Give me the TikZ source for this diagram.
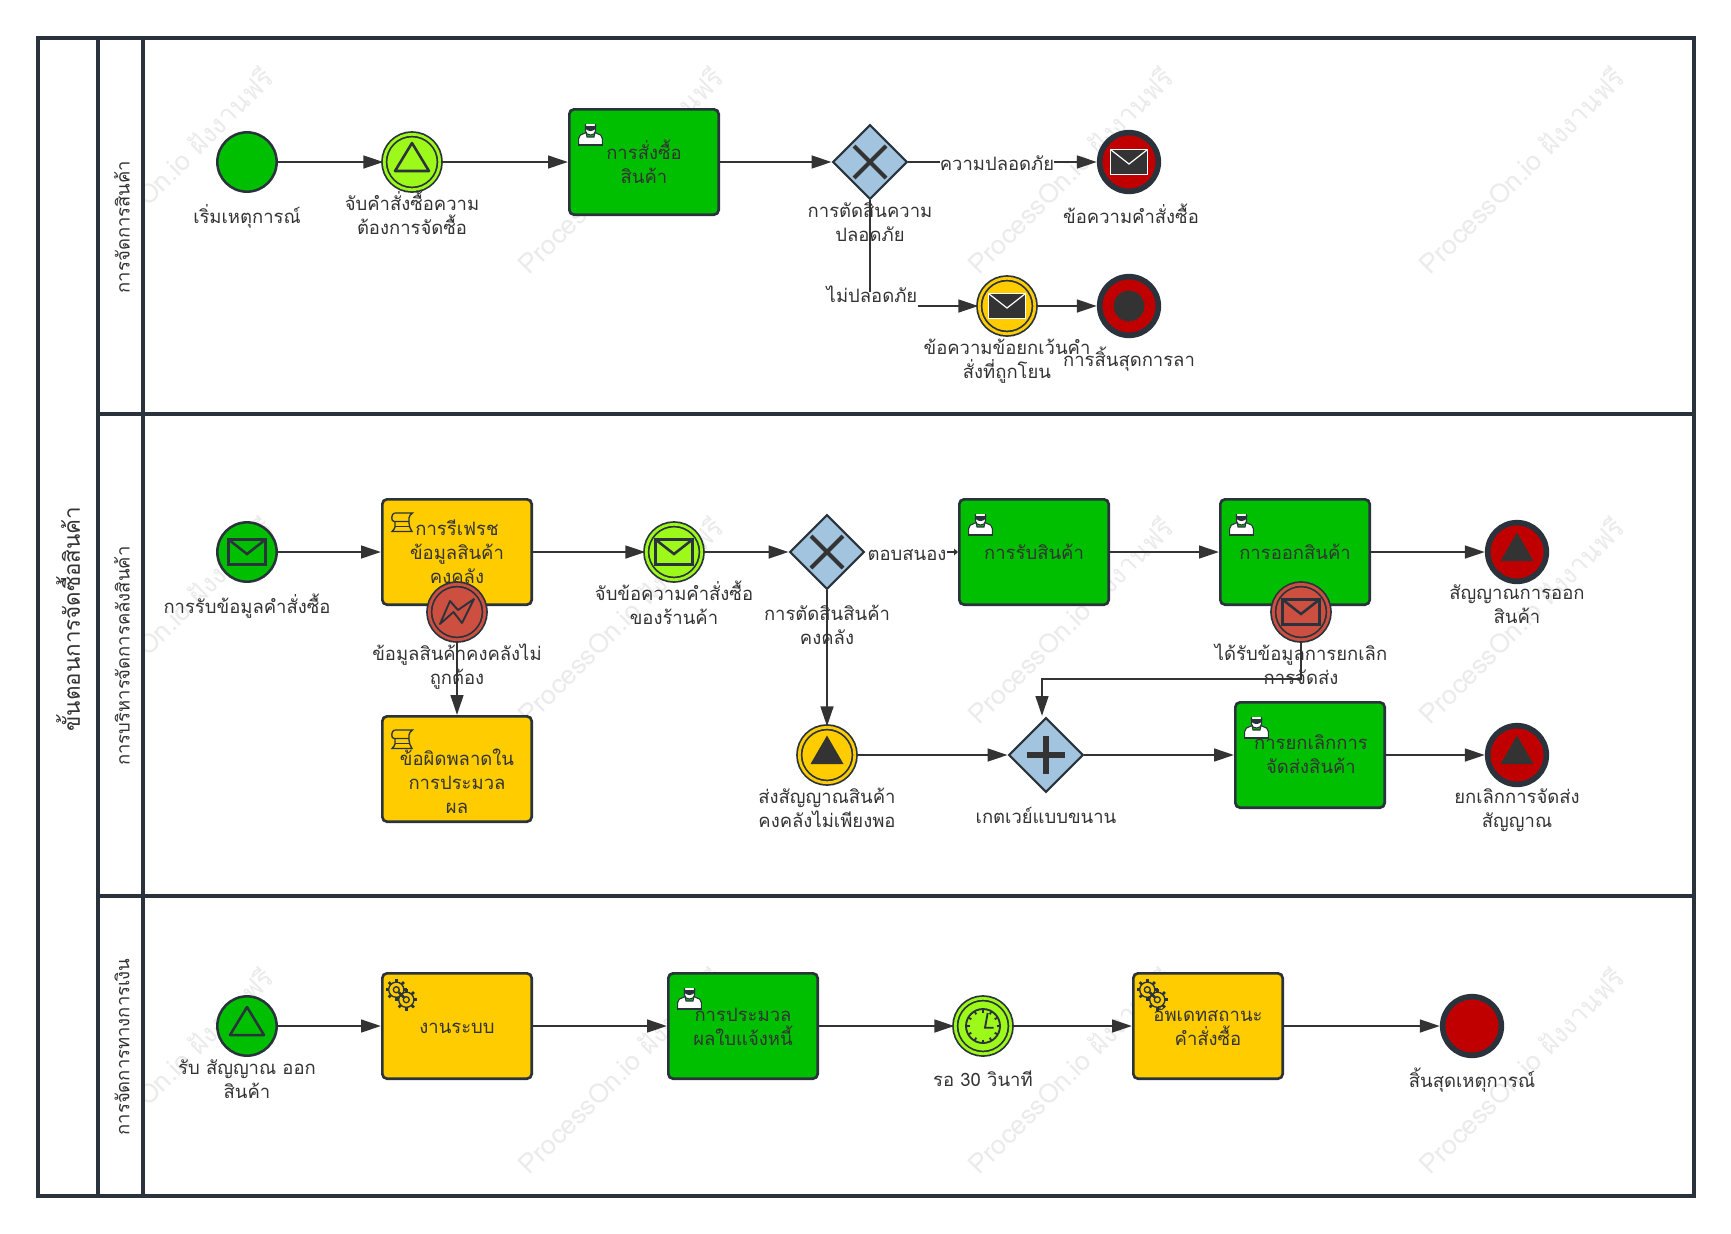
\documentclass[tikz,border=0pt]{standalone}
\usepackage{fontspec}
\usetikzlibrary{arrows.meta,shapes.geometric,calc}
\newfontfamily\thaifont[Script=Thai]{Loma}
\definecolor{rEdge}{HTML}{2A333C}
\definecolor{rLine}{HTML}{333333}
\definecolor{rGreen}{HTML}{00BF00}
\definecolor{rLime}{HTML}{9DF91A}
\definecolor{rYellow}{HTML}{FFCC00}
\definecolor{rRed}{HTML}{C00000}
\definecolor{rBrick}{HTML}{CC4F3F}
\definecolor{rBlue}{HTML}{A2C4DE}
\definecolor{rMark}{HTML}{EBEBEB}
\tikzset{
  event/.style={circle,draw=rEdge,line width=1.9pt,minimum size=44.5pt,inner sep=0pt},
  ringed/.style={event,double=#1,double distance=2.1pt,line width=1.3pt,fill=#1,minimum size=41.6pt},
  stopevent/.style={circle,draw=rEdge,line width=4.2pt,minimum size=44pt,inner sep=0pt,fill=rRed},
  gateway/.style={diamond,aspect=1,draw=rEdge,line width=1.6pt,fill=rBlue,minimum size=56pt,inner sep=0pt},
  task/.style={rectangle,rounded corners=3.5pt,draw=rEdge,line width=2pt,minimum width=112pt,minimum height=79pt,
    align=center,inner sep=0pt,text=rLine,font=\thaifont\fontsize{13.85}{18}\selectfont,
    execute at begin node=\rule{0pt}{16.35pt},execute at end node=\strut},
  note/.style={align=center,inner sep=0pt,text=rLine,font=\thaifont\fontsize{13.85}{18}\selectfont,
    execute at begin node=\strut,execute at end node=\strut},
  lanetitle/.style={rotate=90,text=rLine,inner sep=0pt,font=\thaifont\fontsize{13.85}{18}\selectfont},
  wmark/.style={rotate=45,text=rMark,inner sep=0pt,font=\thaifont\fontsize{20}{22}\selectfont},
  flow/.style={draw=rLine,line width=1.9pt,-{Triangle[length=15pt,width=9.5pt]}},
  flowstub/.style={draw=rLine,line width=1.9pt,-{Triangle[length=3pt,width=5pt]}},
  plainflow/.style={draw=rLine,line width=1.9pt},
  icon/.style={draw=rEdge,line width=1.9pt,line join=round},
  laneline/.style={draw=rEdge,line width=2.3pt}
}
\newcommand{\mailicon}[4]{\begin{scope}[shift={(#1)}]
  \draw[line width=#4,draw=#3,fill=#2] (-18.5,-12.5) rectangle (18.5,12.5);
  \draw[line width=#4,draw=#3] (-18.5,-12.5) -- (0,2) -- (18.5,-12.5);
\end{scope}}
\newcommand{\signalicon}[2]{\begin{scope}[shift={(#1)}]
  \draw[icon,fill=#2] (0,-19) -- (17,9) -- (-17,9) -- cycle;
\end{scope}}
\newcommand{\signalfill}[1]{\begin{scope}[shift={(#1)}]
  \fill[rLine] (0,-19.5) -- (16.5,9) -- (-16.5,9) -- cycle;
\end{scope}}
\newcommand{\usericon}[1]{\begin{scope}[shift={(#1)}]
  \draw[line width=.8pt,draw=rEdge,fill=white] (10.7,36.7) -- (10.7,30.5) to[out=90,in=190] (16,25.5) -- (18,24.5) -- (19,29) -- (26,29) -- (27,24.5) -- (29,25.5) to[out=-10,in=90] (34.3,30.5) -- (34.3,36.7) -- cycle;
  \draw[line width=.8pt,draw=rEdge,fill=white] (17.5,16) -- (17.5,23) to[out=-90,in=180] (22.5,27) to[out=0,in=-90] (27.5,23) -- (27.5,16);
  \fill[rEdge] (16.5,18) -- (16.5,17.5) arc (180:0:6 and 5.5) -- (28.5,18) -- cycle;
  \draw[line width=1.3pt,draw=rEdge] (10,37.2) -- (35,37.2);
\end{scope}}
\newcommand{\scrollicon}[1]{\begin{scope}[shift={(#1)}]
  \draw[line width=1pt,draw=rEdge] (13.5,15) -- (31.5,15) to[out=220,in=90] (28,20) -- (28,25) to[out=-90,in=120] (31,33.5) -- (11,33.5) to[out=60,in=-90] (14,29) -- (14,24);
  \draw[line width=1pt,draw=rEdge] (13.5,15) to[out=190,in=180] (13,23.5) -- (28,23.5);
  \draw[line width=1pt,draw=rEdge] (14,28.5) -- (28,28.5);
\end{scope}}
\newcommand{\geartooth}[2]{%
  \draw[line width=1pt,draw=rEdge] (#1,#2) circle (7.6);
  \draw[line width=1pt,draw=rEdge] (#1,#2) circle (3);
  \foreach \a in {0,45,...,315}
    \draw[line width=2pt,draw=rEdge] ($(#1,#2)+(\a:7.4)$) -- ($(#1,#2)+(\a:10.8)$);
}
\newcommand{\gearicon}[1]{\begin{scope}[shift={(#1)}]
  \geartooth{15.3}{17.7}
  \geartooth{25.3}{27.7}
\end{scope}}
\begin{document}
\begin{tikzpicture}[x=0.75pt,y=-0.75pt]
  \useasboundingbox (0,0) rectangle (1731,1233);
  % Filling page and pool
  \fill[white] (0,0) rectangle (1731,1233);

  % Marking free watermark
  \foreach \x in {170,620,1070,1521}
    \foreach \y in {170,620,1070}
      \node[wmark] (wm\x\y) at (\x,\y) {ProcessOn.io ฝังงานฟรี};

  % Drawing lane frames
  \fill[white] (38,38) rectangle (143,1196);
  \draw[laneline] (38,38) rectangle (1694,1196);
  \draw[laneline] (98,38) -- (98,1196);
  \draw[laneline] (143,38) -- (143,1196);
  \draw[laneline] (98,414) -- (1694,414);
  \draw[laneline] (98,896) -- (1694,896);

  % Marking lane titles
  \node[lanetitle,font=\thaifont\fontsize{16.8}{18}\selectfont] (poolName) at (68,619) {ขั้นตอนการจัดซื้อสินค้า};
  \node[lanetitle] (laneBuy) at (122,227) {การจัดการสินค้า};
  \node[lanetitle] (laneStock) at (122,656) {การบริหารจัดการคลังสินค้า};
  \node[lanetitle] (laneMoney) at (122,1047) {การจัดการทางการเงิน};

  % Marking purchase lane shapes
  \node[event,fill=rGreen] (evStart) at (247,162) {};
  \node[ringed=rLime] (evCatch) at (412,162) {};
  \node[task,fill=rGreen] (taskOrder) at (644,162) {};
  \node[note] (txtOrder) at (644,165) {การสั่งซื้อ\\สินค้า};
  \node[gateway] (gwSafe) at (870,162) {};
  \node[stopevent] (evOrderEnd) at (1129,162) {};
  \node[ringed=rYellow] (evThrow) at (1007,306) {};
  \node[stopevent] (evLeave) at (1129,306) {};
  \node[circle,fill=rLine,minimum size=23pt,inner sep=0pt] (dotLeave) at (1129,306) {};

  % Marking purchase lane icons
  \signalicon{evCatch}{rLime}
  \usericon{taskOrder.north west}
  \draw[line width=3pt,draw=rLine] ([shift={(-12pt,-12pt)}]gwSafe.center) -- ([shift={(12pt,12pt)}]gwSafe.center);
  \draw[line width=3pt,draw=rLine] ([shift={(12pt,-12pt)}]gwSafe.center) -- ([shift={(-12pt,12pt)}]gwSafe.center);
  \mailicon{evOrderEnd}{rLine}{white}{.9pt}
  \mailicon{evThrow}{rLine}{white}{.9pt}

  % Marking purchase lane labels
  \node[note] (txtStart) at (247,218) {เริ่มเหตุการณ์};
  \node[note] (txtCatch) at (412,216) {จับคำสั่งซื้อความ\\ต้องการจัดซื้อ};
  \node[note] (txtGate) at (870,226) {การตัดสินความ\\ปลอดภัย};
  \node[note] (lblSafe) at (997,166) {ความปลอดภัย};
  \node[note] (lblUnsafe) at (872,298) {ไม่ปลอดภัย};
  \node[note] (txtOrderEnd) at (1131,217) {ข้อความคำสั่งซื้อ};
  \node[note] (txtThrow) at (1007,362) {ข้อความข้อยกเว้นคำ\\สั่งที่ถูกโยน};
  \node[note] (txtLeave) at (1129,360) {การสิ้นสุดการลา};

  % Drawing purchase lane flows
  \draw[flow] (evStart) -- (evCatch);
  \draw[flow] (evCatch) -- (taskOrder);
  \draw[flow] (taskOrder) -- (gwSafe);
  \draw[plainflow] (gwSafe.east) -- (gwSafe.east -| lblSafe.west);
  \draw[flow] (gwSafe.east -| lblSafe.east) -- (evOrderEnd);
  \draw[plainflow,line width=1.5pt] (gwSafe.south) -- ($(gwSafe |- lblUnsafe.north)+(0,6)$);
  \draw[flow] (evThrow -| lblUnsafe.east) -- (evThrow);
  \draw[flow] (evThrow) -- (evLeave);

  % Marking stock lane shapes
  \node[event,fill=rGreen] (evMail) at (247,552) {};
  \node[task,fill=rYellow] (taskRefresh) at (457,552) {};
  \node[note] (txtRefresh) at (457,555.5) {การรีเฟรช\\ข้อมูลสินค้า\\คงคลัง};
  \node[task,fill=rYellow] (taskError) at (457,769) {};
  \node[ringed=rLime] (evMailCatch) at (674,552) {};
  \node[gateway] (gwStock) at (827,552) {};
  \node[task,fill=rGreen] (taskReceive) at (1034,552) {การรับสินค้า};
  \node[task,fill=rGreen] (taskIssue) at (1295,552) {การออกสินค้า};
  \node[stopevent] (evIssueEnd) at (1517,552) {};
  \node[ringed=rYellow] (evLack) at (827,755) {};
  \node[gateway] (gwPlus) at (1046,755) {};
  \node[task,fill=rGreen] (taskCancel) at (1310,755) {};
  \node[note] (txtCancel) at (1311,758) {การยกเลิกการ\\จัดส่งสินค้า};
  \node[stopevent] (evCancelEnd) at (1517,755) {};
  \node[ringed=rBrick] (evBadData) at (457,612) {};
  \node[ringed=rBrick] (evCancelMsg) at (1301,612) {};

  % Marking stock lane icons
  \mailicon{evMail}{rGreen}{rEdge}{1.9pt}
  \scrollicon{taskRefresh.north west}
  \scrollicon{taskError.north west}
  \mailicon{evMailCatch}{rLime}{rEdge}{1.9pt}
  \draw[line width=3pt,draw=rLine] ([shift={(-12pt,-12pt)}]gwStock.center) -- ([shift={(12pt,12pt)}]gwStock.center);
  \draw[line width=3pt,draw=rLine] ([shift={(12pt,-12pt)}]gwStock.center) -- ([shift={(-12pt,12pt)}]gwStock.center);
  \usericon{taskReceive.north west}
  \usericon{taskIssue.north west}
  \usericon{taskCancel.north west}
  \signalfill{evIssueEnd}
  \signalfill{evLack}
  \signalfill{evCancelEnd}
  \draw[line width=3.8pt,draw=rLine] ([xshift=-14.5pt]gwPlus.center) -- ([xshift=14.5pt]gwPlus.center);
  \draw[line width=3.8pt,draw=rLine] ([yshift=-14pt]gwPlus.center) -- ([yshift=14pt]gwPlus.center);
  \begin{scope}[shift={(evBadData)}]
    \draw[icon,line width=1.4pt] (-17,12) -- (-7,-11) -- (1,-2) -- (17,-13) -- (5,11) -- (-3.5,0) -- cycle;
  \end{scope}
  \mailicon{evCancelMsg}{rBrick}{rEdge}{1.9pt}

  % Marking stock lane labels
  \node[note] (txtMail) at (247,607) {การรับข้อมูลคำสั่งซื้อ};
  \node[note] (txtBadData) at (457,668) {ข้อมูลสินค้าคงคลังไม่\\ถูกต้อง};
  \node[note] (txtError) at (457,785) {ข้อผิดพลาดใน\\การประมวล\\ผล};
  \node[note] (txtMailCatch) at (674,606) {จับข้อความคำสั่งซื้อ\\ของร้านค้า};
  \node[note] (txtStockGate) at (827,628) {การตัดสินสินค้า\\คงคลัง};
  \node[note] (lblReply) at (907,556) {ตอบสนอง};
  \node[note] (txtCancelMsg) at (1301,668) {ได้รับข้อมูลการยกเลิก\\การจัดส่ง};
  \node[note] (txtIssueEnd) at (1517,608) {สัญญาณการออก\\สินค้า};
  \node[note] (txtLack) at (827,811) {ส่งสัญญาณสินค้า\\คงคลังไม่เพียงพอ};
  \node[note] (txtPlus) at (1046,819) {เกตเวย์แบบขนาน};
  \node[note] (txtCancelEnd) at (1517,812) {ยกเลิกการจัดส่ง\\สัญญาณ};

  % Drawing stock lane flows
  \coordinate (bendA) at (1301,679);
  \coordinate (bendB) at (1042,679);
  \coordinate (tipPlus) at (1042,716);
  \draw[flow] (evMail) -- (taskRefresh);
  \draw[flow] (evBadData) -- (taskError);
  \draw[flow] (taskRefresh) -- (evMailCatch);
  \draw[flow] (evMailCatch) -- (gwStock);
  \draw[flowstub] (gwStock.center -| lblReply.east) -- (taskReceive);
  \draw[flow] (taskReceive) -- (taskIssue);
  \draw[flow] (taskIssue) -- (evIssueEnd);
  \draw[flow] (gwStock) -- (evLack);
  \draw[flow] (evLack) -- (gwPlus);
  \draw[flow] (gwPlus) -- (taskCancel);
  \draw[flow] (taskCancel) -- (evCancelEnd);
  \draw[flow] (evCancelMsg) -- (bendA) -- (bendB) -- (tipPlus);

  % Marking finance lane shapes
  \node[event,fill=rGreen] (evPaySignal) at (247,1026) {};
  \node[task,fill=rYellow] (taskSystem) at (457,1026) {งานระบบ};
  \node[task,fill=rGreen] (taskInvoice) at (743,1026) {};
  \node[note] (txtInvoice) at (743,1030) {การประมวล\\ผลใบแจ้งหนี้};
  \node[ringed=rLime] (evTimer) at (983,1026) {};
  \node[task,fill=rYellow] (taskUpdate) at (1208,1026) {};
  \node[note] (txtUpdate) at (1208,1030) {อัพเดทสถานะ\\คำสั่งซื้อ};
  \node[stopevent] (evFinish) at (1472,1026) {};

  % Marking finance lane icons
  \signalicon{evPaySignal}{rGreen}
  \gearicon{taskSystem.north west}
  \usericon{taskInvoice.north west}
  \gearicon{taskUpdate.north west}
  \begin{scope}[shift={(evTimer)}]
    \draw[line width=1.4pt,draw=rEdge] (0,0) circle (17);
    \foreach \a in {0,30,...,330}
      \draw[line width=1.4pt,draw=rEdge] (\a:13.5) -- (\a:17);
    \draw[line width=1.4pt,draw=rEdge] (4.7,-13) -- (2,1.7) -- (10.7,1.7);
  \end{scope}

  % Marking finance lane labels
  \node[note] (txtPaySignal) at (247,1083) {รับ สัญญาณ ออก\\สินค้า};
  \node[note] (txtTimer) at (983,1082) {รอ 30 วินาที};
  \node[note] (txtFinish) at (1472,1081) {สิ้นสุดเหตุการณ์};

  % Drawing finance lane flows
  \draw[flow] (evPaySignal) -- (taskSystem);
  \draw[flow] (taskSystem) -- (taskInvoice);
  \draw[flow] (taskInvoice) -- (evTimer);
  \draw[flow] (evTimer) -- (taskUpdate);
  \draw[flow] (taskUpdate) -- (evFinish);
\end{tikzpicture}
\end{document}
